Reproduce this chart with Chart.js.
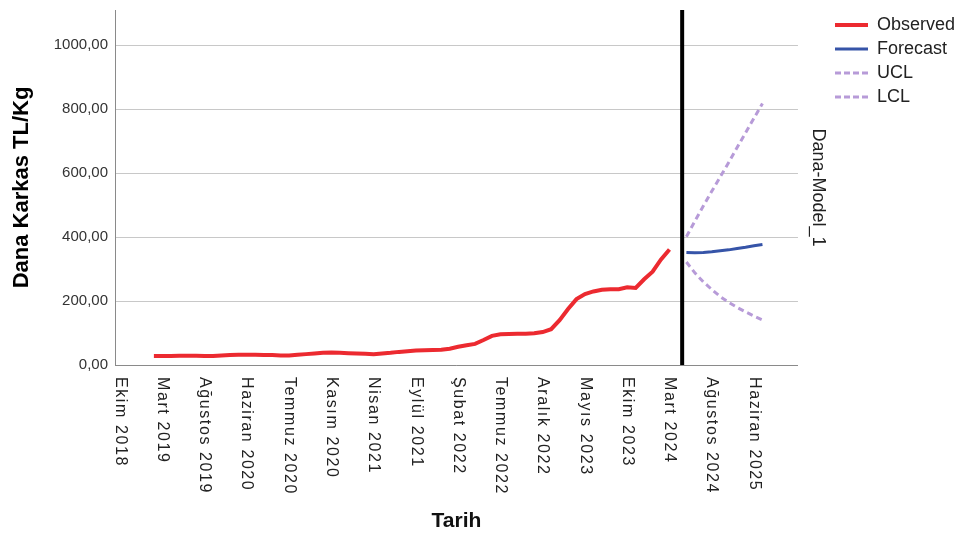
<!DOCTYPE html>
<html>
<head>
<meta charset="utf-8">
<script src="https://cdn.jsdelivr.net/npm/chart.js@4"></script>
<style>
  html, body { margin: 0; padding: 0; background: #fff; }
  #wrap { width: 957px; height: 536px; }
</style>
</head>
<body>
<div id="wrap"><canvas id="chart"></canvas></div>
<script>
// Month index 0 = first tick label; one label every 5 months
const xLabels = ['Ekim 2018', 'Mart 2019', 'Ağustos 2019', 'Haziran 2020', 'Temmuz 2020', 'Kasım 2020',
  'Nisan 2021', 'Eylül 2021', 'Şubat 2022', 'Temmuz 2022', 'Aralık 2022', 'Mayıs 2023',
  'Ekim 2023', 'Mart 2024', 'Ağustos 2024', 'Haziran 2025'];
const labelStep = 5;

// Observed series, starting at month index 4
const observedStart = 4;
const observed = [28, 28, 28, 29, 29, 29, 28, 28, 30, 31, 32, 32, 32, 31, 31, 30, 30, 32, 34, 36,
  38, 39, 38, 37, 36, 35, 34, 36, 38, 41, 43, 45, 46, 47, 48, 51, 57, 62, 66, 78,
  91, 96, 97, 98, 98, 99, 103, 112, 140, 175, 206, 222, 230, 235, 237, 237, 243, 241, 268, 292,
  330, 361];

// Forecast with confidence limits, starting at month index 67
const forecastStart = 67;
const forecast = [352, 351, 352, 354, 357, 360, 364, 368, 373, 377];
const ucl = [401, 450, 497, 543, 588, 633, 680, 726, 772, 818];
const lcl = [322, 288, 260, 236, 214, 196, 180, 166, 153, 141];

// Position of the black "forecast origin" line (month index)
const originMonth = 66.5;

const red = '#ec2a30';
const blue = '#3654a8';
const purple = '#b79bd8';
const textDark = '#222222';
const font = '"Liberation Sans", Arial, sans-serif';
const dash = [6, 4];

const toPoints = (start, arr) => arr.map((v, i) => ({ x: start + i, y: v }));

// small line sample used as legend symbol (keeps the dash pattern)
function lineSample(color, width, dashed) {
  const c = document.createElement('canvas');
  c.width = 33; c.height = 6;
  const g = c.getContext('2d');
  g.strokeStyle = color;
  g.lineWidth = width;
  if (dashed) g.setLineDash([6, 3]);
  g.beginPath();
  g.moveTo(0, 3);
  g.lineTo(33, 3);
  g.stroke();
  return c;
}

// x tick labels read top-to-bottom (rotated clockwise), drawn here
const xLabelPlugin = {
  id: 'xLabels',
  afterDraw(chart) {
    const { ctx, chartArea } = chart;
    const xs = chart.scales.x;
    ctx.save();
    ctx.font = '16px ' + font;
    if ('letterSpacing' in ctx) ctx.letterSpacing = '1.6px';
    ctx.fillStyle = textDark;
    ctx.textAlign = 'left';
    ctx.textBaseline = 'middle';
    xLabels.forEach((lab, i) => {
      ctx.save();
      ctx.translate(xs.getPixelForValue(i * labelStep), chartArea.bottom + 12);
      ctx.rotate(Math.PI / 2);
      ctx.fillText(lab, 0, 0);
      ctx.restore();
    });
    ctx.restore();
  }
};

const ctx = document.getElementById('chart').getContext('2d');
new Chart(ctx, {
  type: 'line',
  data: {
    datasets: [
      { label: 'Observed', data: toPoints(observedStart, observed), borderColor: red, borderWidth: 4,
        pointStyle: lineSample(red, 4, false) },
      { label: 'Forecast', data: toPoints(forecastStart, forecast), borderColor: blue, borderWidth: 3,
        pointStyle: lineSample(blue, 3, false) },
      { label: 'UCL', data: toPoints(forecastStart, ucl), borderColor: purple, borderWidth: 3, borderDash: dash,
        pointStyle: lineSample(purple, 3, true) },
      { label: 'LCL', data: toPoints(forecastStart, lcl), borderColor: purple, borderWidth: 3, borderDash: dash,
        pointStyle: lineSample(purple, 3, true) },
      { label: '', data: [{ x: originMonth, y: 0 }, { x: originMonth, y: 1110 }], borderColor: '#000', borderWidth: 4 }
    ]
  },
  options: {
    responsive: true,
    maintainAspectRatio: false,
    animation: false,
    elements: { point: { radius: 0 }, line: { tension: 0, fill: false } },
    layout: { padding: { top: 10, right: -8, bottom: 0, left: 0 } },
    plugins: {
      tooltip: { enabled: false },
      legend: {
        position: 'right',
        align: 'start',
        labels: {
          color: textDark,
          font: { family: font, size: 18 },
          usePointStyle: true,
          pointStyleWidth: 33,
          padding: 6,
          filter: item => item.text !== ''
        }
      }
    },
    scales: {
      x: {
        type: 'linear',
        min: -0.6,
        max: 80.2,
        grid: { display: false, drawTicks: false },
        border: { color: '#8a8a8a', width: 1 },
        ticks: { display: false },
        title: {
          display: true, text: 'Tarih', color: '#111',
          font: { family: font, size: 21, weight: 'bold' },
          padding: { top: 0, bottom: 2 }
        },
        afterFit(s) { s.height = 171; s.paddingLeft = 0; s.paddingRight = 0; }
      },
      y: {
        min: 0,
        max: 1110,
        afterBuildTicks(s) { s.ticks = [0, 200, 400, 600, 800, 1000].map(v => ({ value: v })); },
        grid: { color: '#c8c8c8', lineWidth: 1, drawTicks: false },
        border: { color: '#8a8a8a', width: 1 },
        ticks: {
          color: '#333',
          font: { family: font, size: 15 },
          padding: 7,
          callback: v => v.toFixed(2).replace('.', ',')
        },
        title: {
          display: true, text: 'Dana Karkas TL/Kg', color: '#000',
          font: { family: font, size: 22, weight: 'bold' },
          padding: { top: 9, bottom: 0 }
        },
        afterFit(s) { s.width = 115; s.paddingTop = 0; s.paddingBottom = 0; }
      },
      y2: {
        position: 'right',
        min: 0,
        max: 1,
        grid: { display: false, drawTicks: false },
        border: { display: false },
        ticks: { display: false },
        title: {
          display: true, text: 'Dana-Model_1', color: textDark,
          font: { family: font, size: 18 },
          padding: { top: 0, bottom: 0 }
        },
        afterFit(s) { s.width = 31; }
      }
    }
  },
  plugins: [xLabelPlugin]
});
</script>
</body>
</html>
